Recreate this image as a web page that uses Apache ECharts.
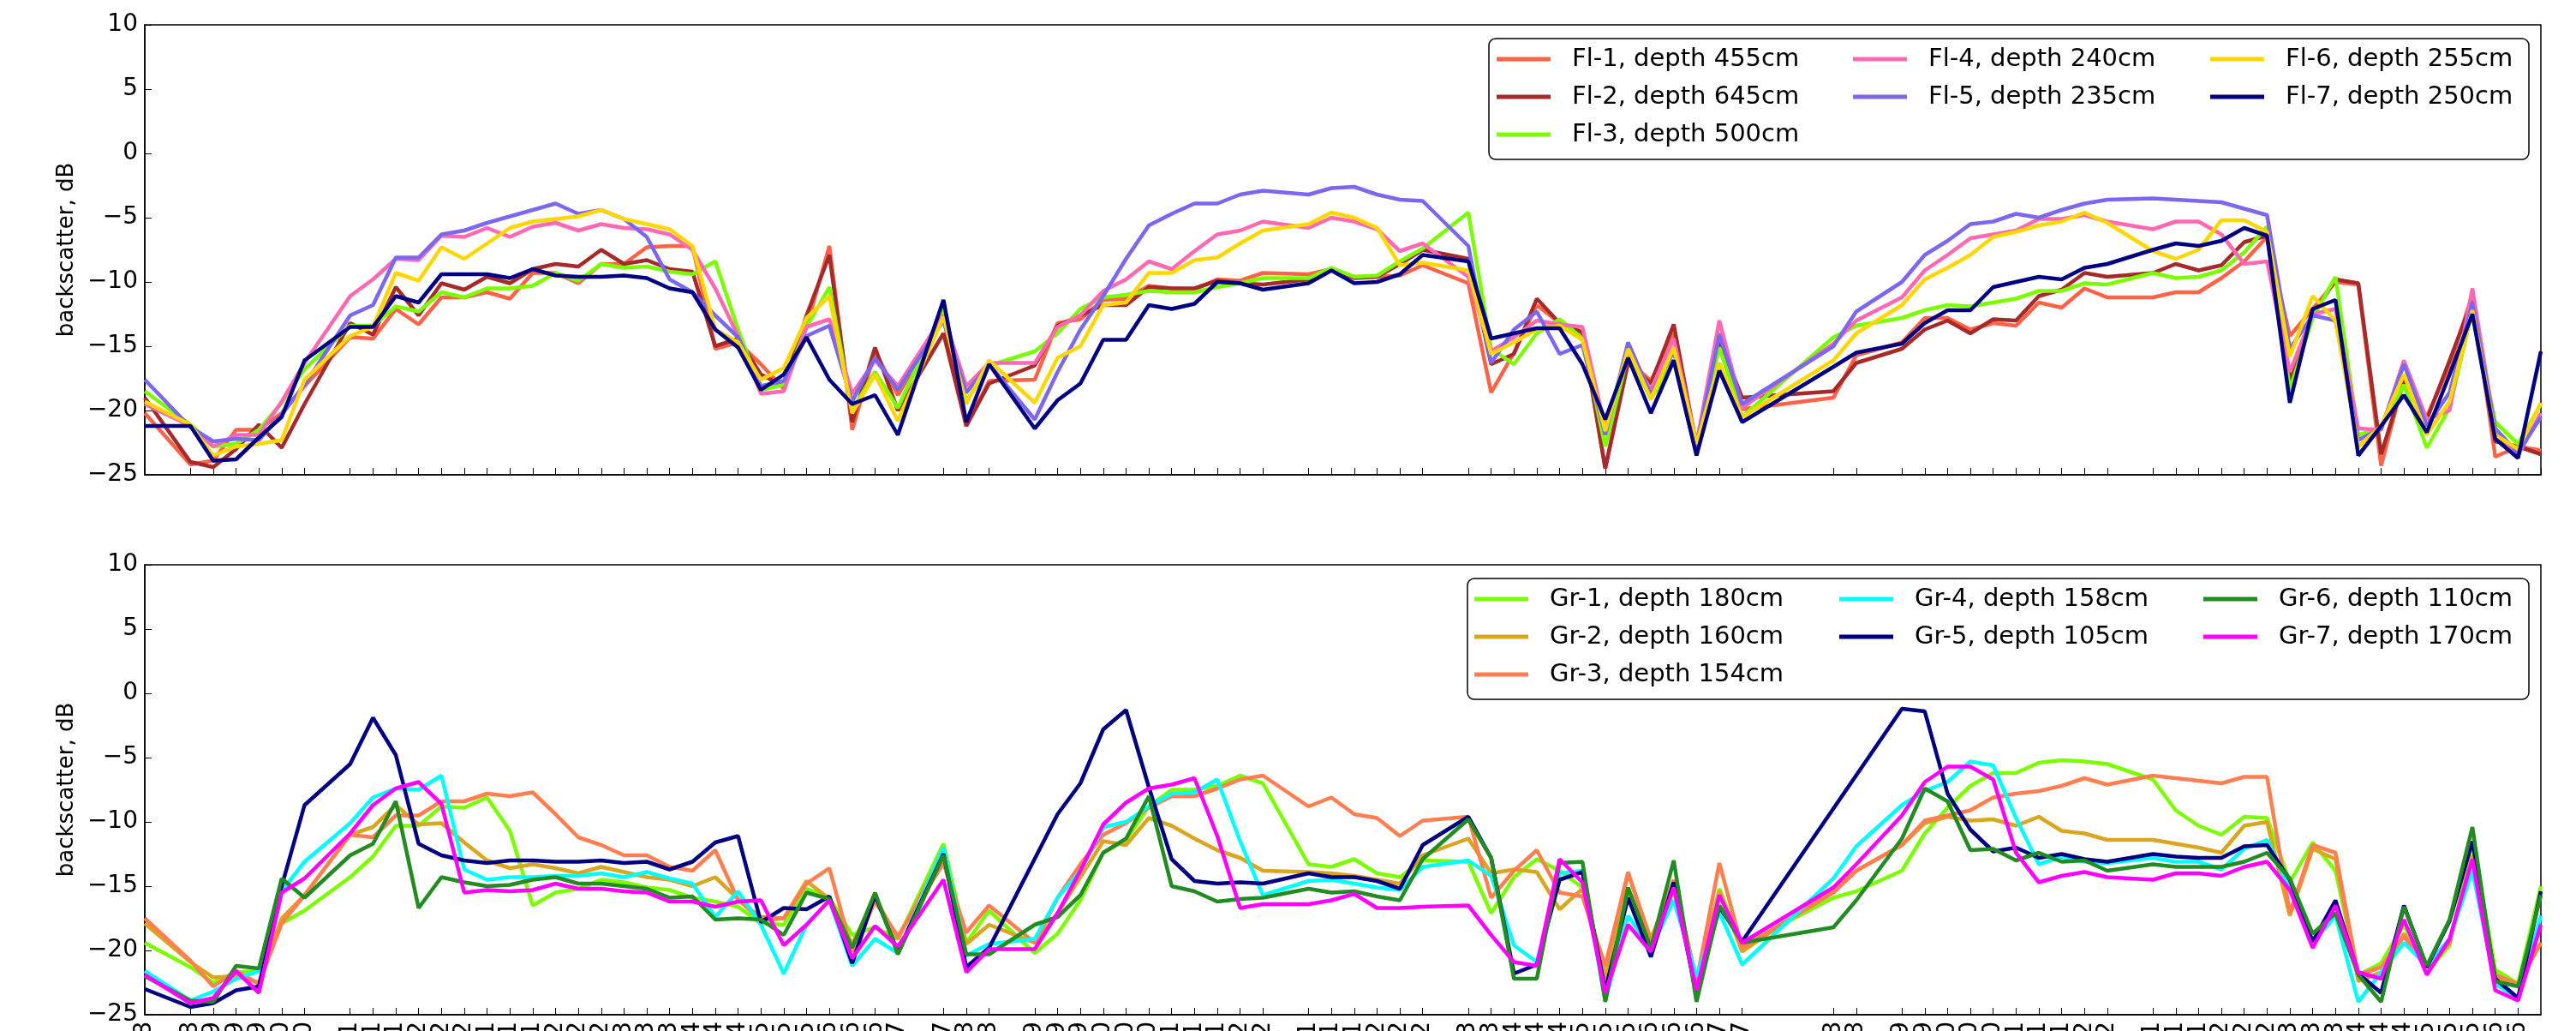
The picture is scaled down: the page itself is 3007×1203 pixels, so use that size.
<!DOCTYPE html>
<html lang="en">
<head>
<meta charset="utf-8">
<title>backscatter</title>
<style>
  * { margin: 0; padding: 0; }
  html, body { width: 100%; height: 100%; background: #fff; }
  #chart { width: 3007px; height: 1203px; }
</style>
</head>
<body>
<div id="chart"></div>
<script src="https://cdn.jsdelivr.net/npm/echarts@6/dist/echarts.min.js"></script>
<script>
// one slot per 10 days, '' = no acquisition on that slot
const dates = [
  '01.08', '', '21.08', '01.09', '11.09', '21.09', '01.10', '11.10', '', '01.11',
  '11.11', '21.11', '01.12', '11.12', '21.12', '01.01', '11.01', '21.01', '01.02', '11.02',
  '21.02', '01.03', '11.03', '21.03', '01.04', '11.04', '21.04', '01.05', '11.05', '21.05',
  '01.06', '11.06', '21.06', '01.07', '', '21.07', '01.08', '11.08', '', '01.09',
  '11.09', '21.09', '01.10', '11.10', '21.10', '01.11', '11.11', '21.11', '01.12', '11.12',
  '', '01.01', '11.01', '21.01', '01.02', '11.02', '21.02', '', '11.03', '21.03',
  '01.04', '11.04', '21.04', '01.05', '11.05', '21.05', '01.06', '11.06', '21.06', '01.07',
  '11.07', '', '', '', '11.08', '21.08', '', '11.09', '21.09', '01.10',
  '11.10', '21.10', '01.11', '11.11', '21.11', '01.12', '11.12', '', '01.01', '11.01',
  '21.01', '01.02', '11.02', '21.02', '01.03', '11.03', '21.03', '01.04', '11.04', '21.04',
  '01.05', '11.05', '21.05', '01.06', '11.06', '21.06'
];

const fl1 = [
  -20.2, null, -24.2, -23.9, -21.5, -21.5, -20.2, -18.1, null, -14.3,
  -14.4, -12.1, -13.3, -11.2, -11.2, -10.8, -11.3, -9.3, -9.3, -10.1,
  -8.6, -8.6, -7.3, -7.2, -7.2, -15.2, -14.7, -16.4, -18.3, -13.5,
  -7.2, -21.5, -15.4, -18.8, null, -12.8, -21.2, -17.7, null, -17.6,
  -13.2, -12.9, -11.4, -11.3, -10.3, -10.5, -10.6, -9.8, -9.9, -9.3,
  null, -9.4, -9.0, -9.6, -9.6, -9.5, -8.7, null, -10.1, -18.6,
  -15.5, -11.8, -13.2, -14.0, -24.5, -16.1, -17.7, -14.0, -23.3, -14.0,
  -19.9, null, null, null, -19.0, -15.7, null, -14.7, -12.8, -12.8,
  -13.7, -13.2, -13.4, -11.6, -12.0, -10.5, -11.2, null, -11.2, -10.8,
  -10.8, -9.7, -8.4, -6.5, -14.2, -12.1, -10.0, -10.2, -24.3, -17.5,
  -20.5, -16.5, -11.0, -23.6, -22.8, -23.1
];
const fl2 = [
  -19.0, null, -24.0, -24.4, -23.0, -21.1, -22.9, -19.5, null, -13.2,
  -14.1, -10.4, -12.6, -10.1, -10.6, -9.6, -10.1, -9.0, -8.6, -8.8,
  -7.5, -8.6, -8.3, -9.0, -9.2, -15.0, -14.4, -17.2, -18.1, -12.6,
  -7.9, -20.9, -15.1, -20.0, null, -14.0, -21.2, -17.9, null, -16.5,
  -13.4, -12.6, -11.8, -11.8, -10.4, -10.5, -10.5, -9.9, -10.1, -10.2,
  null, -9.8, -9.0, -9.7, -9.6, -8.6, -7.5, null, -8.2, -16.4,
  -15.6, -11.3, -13.2, -13.9, -24.5, -16.3, -17.9, -13.3, -22.8, -14.5,
  -19.0, null, null, null, -18.5, -16.3, null, -15.2, -13.7, -13.0,
  -14.0, -12.9, -13.0, -11.1, -10.6, -9.3, -9.6, null, -9.3, -8.6,
  -9.1, -8.7, -6.9, -6.4, -17.7, -12.6, -9.8, -10.1, -23.4, -17.7,
  -20.7, -16.1, -11.4, -22.4, -22.8, -23.4
];
const fl3 = [
  -18.5, null, -21.1, -22.8, -22.6, -21.5, -19.4, -16.8, null, -13.4,
  -13.4, -11.9, -12.3, -10.8, -11.2, -10.5, -10.5, -10.3, -9.3, -9.9,
  -8.6, -8.9, -8.8, -9.2, -9.4, -8.4, -13.7, -18.4, -18.0, -13.5,
  -10.4, -20.0, -17.0, -19.8, null, -12.1, -19.3, -16.5, null, -15.4,
  -14.0, -12.1, -11.2, -11.0, -10.7, -10.8, -10.8, -10.4, -10.1, -9.7,
  null, -9.7, -8.9, -9.6, -9.5, -8.4, -7.4, null, -4.6, -15.2,
  -16.4, -14.0, -12.9, -14.4, -22.8, -15.6, -19.1, -16.1, -22.5, -15.1,
  -20.5, null, null, null, -14.3, -13.4, null, -12.8, -12.2, -11.8,
  -11.9, -11.6, -11.3, -10.7, -10.7, -10.1, -10.2, null, -9.3, -9.7,
  -9.6, -9.1, -7.7, -5.7, -18.4, -12.8, -9.6, -21.9, -21.4, -18.0,
  -22.9, -19.8, -12.2, -20.9, -22.6, -19.5
];
const fl4 = [
  -19.5, null, -21.2, -22.8, -21.9, -21.9, -19.3, -16.3, null, -11.1,
  -9.8, -8.2, -8.3, -6.4, -6.5, -5.8, -6.5, -5.7, -5.4, -6.0,
  -5.5, -5.8, -5.9, -6.3, -7.5, -10.5, -14.2, -18.7, -18.5, -13.5,
  -12.9, -18.7, -16.1, -18.1, null, -12.6, -18.1, -16.3, null, -16.3,
  -13.5, -12.6, -10.7, -9.8, -8.4, -9.0, -7.6, -6.3, -6.0, -5.3,
  null, -5.8, -5.0, -5.3, -5.9, -7.6, -7.0, null, -9.6, -15.4,
  -14.3, -13.0, -13.3, -13.5, -21.4, -15.4, -18.4, -14.4, -22.6, -13.0,
  -19.8, null, null, null, -14.8, -13.0, null, -11.2, -9.1, -7.9,
  -6.6, -6.3, -6.0, -5.1, -5.1, -4.8, -5.3, null, -5.9, -5.3,
  -5.3, -6.3, -8.6, -8.4, -17.0, -12.5, -12.1, -21.4, -21.5, -16.1,
  -20.7, -20.0, -10.5, -21.6, -23.5, -20.2
];
const fl5 = [
  -17.6, null, -21.3, -22.4, -22.2, -22.3, -20.3, -18.0, null, -12.6,
  -11.8, -8.1, -8.1, -6.3, -6.0, -5.4, -4.9, -4.4, -3.9, -4.7,
  -4.4, -5.1, -6.5, -9.8, -10.8, -12.6, -14.3, -18.1, -17.7, -14.2,
  -13.4, -19.3, -15.9, -18.4, null, -13.0, -18.6, -16.4, null, -20.7,
  -17.0, -13.7, -11.1, -8.2, -5.6, -4.7, -3.9, -3.9, -3.2, -2.9,
  null, -3.2, -2.7, -2.6, -3.2, -3.6, -3.7, null, -7.2, -16.3,
  -13.7, -12.3, -15.6, -14.9, -21.9, -14.7, -18.8, -15.4, -22.8, -14.1,
  -19.5, null, null, null, -15.0, -12.3, null, -10.0, -7.9, -6.8,
  -5.5, -5.3, -4.7, -5.0, -4.4, -3.9, -3.6, null, -3.5, -3.6,
  -3.7, -3.8, -4.3, -4.8, -15.2, -12.6, -13.0, -22.3, -21.4, -16.4,
  -21.2, -18.6, -11.6, -21.4, -23.3, -20.5
];
const fl6 = [
  -19.3, null, -21.1, -23.5, -22.8, -22.6, -22.3, -17.6, null, -14.2,
  -13.5, -9.3, -9.9, -7.3, -8.2, -7.0, -5.8, -5.3, -5.1, -4.9,
  -4.4, -5.1, -5.5, -5.9, -7.2, -13.7, -14.7, -17.6, -16.7, -12.8,
  -11.1, -20.2, -17.2, -20.8, null, -12.7, -19.5, -16.1, null, -19.4,
  -15.9, -15.0, -11.8, -11.6, -9.3, -9.3, -8.3, -8.1, -7.0, -6.0,
  null, -5.5, -4.6, -5.0, -5.8, -8.7, -8.5, null, -9.1, -15.6,
  -14.7, -13.7, -13.4, -14.5, -21.6, -15.2, -19.1, -15.1, -22.6, -16.3,
  -20.5, null, null, null, -16.1, -14.0, null, -11.8, -9.8, -8.9,
  -7.9, -6.5, -6.1, -5.6, -5.3, -4.6, -5.4, null, -7.6, -8.2,
  -7.5, -5.2, -5.2, -6.1, -15.8, -11.1, -13.0, -22.8, -21.2, -17.2,
  -21.9, -19.3, -12.2, -21.9, -23.0, -19.4
];
const fl7 = [
  -21.2, null, -21.2, -23.9, -23.8, -22.1, -20.5, -16.1, null, -13.5,
  -13.5, -11.1, -11.6, -9.4, -9.4, -9.4, -9.7, -9.0, -9.5, -9.6,
  -9.6, -9.5, -9.7, -10.5, -10.8, -13.7, -15.1, -18.4, -17.2, -14.3,
  -17.6, -19.5, -18.8, -21.9, null, -11.4, -20.9, -16.4, null, -21.4,
  -19.2, -17.9, -14.5, -14.5, -11.8, -12.1, -11.7, -10.0, -10.1, -10.6,
  null, -10.1, -9.1, -10.1, -10.0, -9.4, -7.9, null, -8.4, -14.4,
  -14.0, -13.6, -13.6, -16.4, -20.7, -15.9, -20.2, -16.1, -23.5, -16.9,
  -20.9, null, null, null, -16.6, -15.5, null, -14.8, -13.2, -12.2,
  -12.2, -10.4, -10.0, -9.6, -9.8, -8.9, -8.6, null, -7.5, -7.0,
  -7.2, -6.8, -5.8, -6.4, -19.4, -12.1, -11.4, -23.5, -21.2, -18.8,
  -21.7, -17.2, -12.5, -22.2, -23.7, -15.4
];

const gr1 = [
  -19.4, null, -21.3, -22.5, -21.7, -21.6, -17.9, -16.9, null, -14.3,
  -12.7, -10.3, -10.3, -8.8, -8.9, -8.1, -10.7, -16.5, -15.5, -15.2,
  -14.5, -14.7, -15.1, -15.3, -15.9, -16.2, -16.6, -17.9, -18.0, -15.2,
  -15.9, -18.8, -18.2, -19.1, null, -11.7, -19.4, -16.9, null, -20.2,
  -18.7, -16.1, -12.4, -11.4, -8.8, -7.5, -7.5, -7.2, -6.4, -7.0,
  null, -13.3, -13.5, -12.9, -14.0, -14.3, -13.0, null, -13.1, -17.1,
  -14.3, -12.9, -13.8, -15.1, -21.7, -15.4, -19.8, -15.4, -22.6, -15.2,
  -19.6, null, null, null, -15.9, -15.4, null, -13.8, -10.9, -8.9,
  -7.2, -6.2, -6.2, -5.4, -5.2, -5.3, -5.5, null, -6.7, -9.1,
  -10.3, -11.0, -9.6, -9.7, -14.7, -11.6, -13.8, -21.9, -21.0, -18.0,
  -21.7, -19.6, -11.6, -21.5, -22.6, -15.0
];
const gr2 = [
  -17.9, null, -20.9, -22.1, -22.0, -22.5, -17.5, -15.7, null, -11.0,
  -10.4, -8.7, -10.2, -10.1, -11.6, -13.0, -13.6, -13.3, -13.6, -14.0,
  -13.5, -13.9, -14.3, -14.5, -15.0, -14.3, -16.0, -17.7, -17.5, -14.6,
  -16.0, -19.5, -15.9, -19.1, null, -12.3, -19.5, -18.0, null, -19.4,
  -17.1, -14.3, -11.5, -11.8, -9.7, -10.3, -11.3, -12.2, -12.8, -13.8,
  null, -13.9, -14.0, -14.2, -14.5, -14.8, -12.6, null, -11.3, -14.0,
  -13.7, -13.9, -16.8, -15.2, -22.2, -14.0, -19.1, -14.6, -22.3, -15.4,
  -20.1, null, null, null, -15.2, -13.8, null, -11.8, -10.1, -9.6,
  -9.9, -9.8, -10.3, -9.6, -10.7, -10.9, -11.4, null, -11.4, -11.7,
  -12.0, -12.4, -10.3, -10.0, -17.3, -12.1, -12.9, -22.4, -21.7, -18.7,
  -21.5, -19.4, -12.6, -22.0, -22.7, -19.4
];
const gr3 = [
  -17.5, null, -20.8, -22.8, -21.6, -22.6, -17.9, -15.7, null, -11.0,
  -11.2, -9.5, -9.5, -8.4, -8.4, -7.8, -8.0, -7.7, -9.4, -11.2,
  -11.8, -12.6, -12.6, -13.5, -13.8, -12.2, -16.1, -17.4, -17.5, -14.8,
  -13.6, -20.1, -16.2, -18.9, null, -13.2, -18.6, -16.5, null, -19.4,
  -15.9, -13.3, -11.0, -10.1, -8.9, -8.0, -8.0, -7.4, -6.7, -6.4,
  null, -8.8, -8.1, -9.4, -9.7, -11.1, -9.9, null, -9.6, -15.9,
  -13.8, -12.2, -15.5, -15.8, -21.2, -13.9, -19.4, -14.5, -22.4, -13.2,
  -19.8, null, null, null, -15.5, -13.8, null, -11.8, -9.9, -9.5,
  -9.1, -8.1, -7.8, -7.6, -7.2, -6.6, -7.1, null, -6.4, -6.6,
  -6.8, -7.0, -6.5, -6.5, -17.1, -11.8, -12.4, -21.9, -21.3, -18.9,
  -21.2, -19.4, -12.9, -21.9, -22.6, -19.4
];
const gr4 = [
  -21.6, null, -23.9, -23.2, -22.2, -21.6, -15.4, -13.1, null, -10.1,
  -8.1, -7.4, -7.5, -6.4, -13.7, -14.5, -14.3, -14.3, -14.2, -14.2,
  -14.0, -14.3, -13.9, -14.4, -14.8, -17.4, -15.4, -18.0, -21.8, -18.0,
  -16.1, -21.2, -19.1, -20.2, null, -12.0, -20.4, -19.5, null, -19.1,
  -15.9, -13.8, -10.4, -10.0, -8.8, -7.8, -7.7, -6.7, -11.5, -15.7,
  null, -14.6, -14.5, -14.8, -15.1, -15.3, -13.5, null, -13.0, -14.2,
  -19.6, -20.9, -14.0, -13.8, -23.9, -17.3, -19.9, -16.1, -22.0, -17.0,
  -21.1, null, null, null, -14.4, -11.9, null, -8.7, -7.6, -6.9,
  -5.3, -5.6, -9.7, -13.3, -12.7, -13.1, -13.2, null, -12.8, -13.1,
  -13.1, -13.7, -12.1, -11.4, -15.2, -19.4, -17.3, -24.0, -21.7, -19.4,
  -21.2, -19.1, -13.8, -22.6, -23.7, -17.3
];
const gr5 = [
  -23.0, null, -24.4, -24.1, -23.1, -22.8, -15.0, -8.7, null, -5.5,
  -1.9, -4.8, -11.7, -12.6, -13.0, -13.2, -13.0, -13.0, -13.1, -13.1,
  -13.0, -13.2, -13.1, -13.7, -13.1, -11.6, -11.1, -17.8, -16.7, -16.8,
  -15.8, -21.0, -15.7, -20.1, null, -12.5, -21.3, -19.8, null, null,
  -9.4, -7.0, -2.8, -1.3, -7.3, -12.9, -14.6, -14.8, -14.7, -14.8,
  null, -14.0, -14.3, -14.3, -14.6, -15.2, -11.8, null, -9.6, -12.8,
  -21.8, -21.1, -14.5, -13.9, -23.1, -15.9, -20.5, -14.7, -23.5, -16.6,
  -19.3, null, null, null, null, null, null, -1.2, -1.4, -7.8,
  -10.6, -12.3, -12.0, -12.8, -12.5, -12.9, -13.1, null, -12.5, -12.7,
  -12.8, -12.8, -11.9, -11.8, -14.5, -19.3, -16.1, -21.8, -23.3, -16.5,
  -21.3, -17.7, -11.5, -22.2, -23.7, -15.4
];
const gr6 = [
  -22.0, null, -23.9, -24.0, -21.2, -21.4, -14.4, -15.9, null, -12.6,
  -11.7, -8.4, -16.7, -14.3, -14.7, -15.0, -14.9, -14.5, -14.3, -14.8,
  -14.8, -15.0, -15.2, -15.9, -15.8, -17.6, -17.5, -17.6, -18.8, -15.5,
  -16.0, -19.8, -15.5, -20.3, null, -12.6, -20.3, -20.3, null, -18.0,
  -17.4, -15.7, -12.4, -11.3, -8.0, -15.0, -15.4, -16.2, -16.0, -15.9,
  null, -15.2, -15.5, -15.4, -15.8, -16.1, -12.9, null, -9.8, -12.8,
  -22.2, -22.2, -13.2, -13.1, -24.0, -15.1, -19.8, -13.0, -24.0, -16.5,
  -19.4, null, null, null, -18.2, -16.1, null, -11.3, -7.4, -8.4,
  -12.2, -12.1, -13.0, -12.4, -13.1, -13.0, -13.8, null, -13.3, -13.5,
  -13.5, -13.5, -13.1, -12.4, -14.4, -18.7, -17.1, -21.9, -24.0, -16.6,
  -21.2, -17.6, -10.4, -22.4, -22.8, -15.7
];
const gr7 = [
  -21.9, null, -24.1, -23.7, -21.6, -23.3, -15.5, -14.4, null, -10.9,
  -8.7, -7.4, -6.9, -8.6, -15.5, -15.3, -15.4, -15.3, -14.8, -15.2,
  -15.2, -15.4, -15.5, -16.2, -16.2, -16.6, -16.2, -16.1, -19.6, -18.0,
  -16.1, -20.6, -18.1, -19.7, null, -14.5, -21.7, -19.9, null, -19.9,
  -17.1, -13.8, -10.2, -8.5, -7.4, -7.1, -6.6, -11.1, -16.7, -16.4,
  null, -16.4, -16.1, -15.6, -16.7, -16.7, -16.6, null, -16.5, -18.8,
  -20.9, -21.2, -12.9, -14.7, -23.3, -18.0, -20.1, -15.1, -23.1, -15.7,
  -19.4, null, null, null, -15.1, -13.3, null, -9.5, -6.9, -5.7,
  -5.7, -6.7, -12.4, -14.7, -14.2, -13.9, -14.3, null, -14.5, -14.0,
  -14.0, -14.2, -13.5, -13.1, -15.3, -19.8, -16.5, -21.7, -22.2, -17.6,
  -21.9, -19.1, -12.9, -23.1, -23.9, -18.0
];

const flNames = ['Fl-1, depth 455cm', 'Fl-2, depth 645cm', 'Fl-3, depth 500cm', 'Fl-4, depth 240cm',
  'Fl-5, depth 235cm', 'Fl-6, depth 255cm', 'Fl-7, depth 250cm'];
const grNames = ['Gr-1, depth 180cm', 'Gr-2, depth 160cm', 'Gr-3, depth 154cm', 'Gr-4, depth 158cm',
  'Gr-5, depth 105cm', 'Gr-6, depth 110cm', 'Gr-7, depth 170cm'];
const flColors = ['#ff6347', '#a52a2a', '#7cfc00', '#ff69b4', '#7b68ee', '#ffd700', '#000080'];
const grColors = ['#7cfc00', '#daa520', '#ff7f50', '#00ffff', '#000080', '#228b22', '#ff00ff'];
const flData = [fl1, fl2, fl3, fl4, fl5, fl6, fl7];
const grData = [gr1, gr2, gr3, gr4, gr5, gr6, gr7];

const FONT = 'DejaVu Sans';
const minus = (v) => String(v).replace('-', '\u2212');
const hasDate = (i, v) => v !== '';

function makeXAxis(gridIndex, withLabels) {
  return {
    type: 'category',
    gridIndex: gridIndex,
    data: dates,
    boundaryGap: false,
    axisLine: { show: true, onZero: false, lineStyle: { color: '#000', width: 1.5 } },
    axisTick: { show: true, inside: true, length: 8, interval: hasDate, lineStyle: { color: '#000', width: 1 } },
    axisLabel: {
      show: withLabels, interval: hasDate, rotate: 90, margin: 8,
      fontFamily: FONT, fontSize: 28, color: '#000'
    },
    splitLine: { show: false }
  };
}

function makeYAxis(gridIndex) {
  return {
    type: 'value',
    gridIndex: gridIndex,
    min: -25, max: 10, interval: 5,
    name: 'backscatter, dB',
    nameLocation: 'middle',
    nameGap: 78,
    nameRotate: 90,
    nameTextStyle: { fontFamily: FONT, fontSize: 26, color: '#000' },
    axisLine: { show: true, onZero: false, lineStyle: { color: '#000', width: 1.5 } },
    axisTick: { show: true, inside: true, length: 8, lineStyle: { color: '#000', width: 1 } },
    axisLabel: { formatter: minus, margin: 8, fontFamily: FONT, fontSize: 28, color: '#000' },
    splitLine: { show: false }
  };
}

function makeSeries(names, colors, data, axisIndex) {
  return names.map((name, i) => ({
    name: name,
    type: 'line',
    xAxisIndex: axisIndex,
    yAxisIndex: axisIndex,
    data: data[i],
    symbol: 'none',
    connectNulls: true,
    lineStyle: { color: colors[i], width: 4.5 },
    itemStyle: { color: colors[i] },
    emphasis: { disabled: true }
  }));
}

function makeLegend(names, left, top) {
  return {
    data: names,
    left: left,
    top: top,
    orient: 'vertical',
    padding: 0,
    itemGap: 14,
    itemWidth: 63,
    itemHeight: 5,
    icon: 'rect',
    selectedMode: false,
    textStyle: { fontFamily: FONT, fontSize: 29, color: '#000', lineHeight: 30, padding: [0, 0, 0, 20] }
  };
}

const chart = echarts.init(document.getElementById('chart'), null, { renderer: 'canvas' });
chart.setOption({
  animation: false,
  backgroundColor: '#fff',
  grid: [
    { left: 169, top: 29, width: 2797, height: 525, show: true, borderColor: '#000', borderWidth: 1.5,
      containLabel: false, outerBoundsMode: 'none' },
    { left: 169, top: 659, width: 2797, height: 525, show: true, borderColor: '#000', borderWidth: 1.5,
      containLabel: false, outerBoundsMode: 'none' }
  ],
  xAxis: [makeXAxis(0, false), makeXAxis(1, true)],
  yAxis: [makeYAxis(0), makeYAxis(1)],
  graphic: [
    { type: 'rect', shape: { x: 1738, y: 45, width: 1214, height: 141, r: 8 },
      style: { fill: '#fff', stroke: '#000', lineWidth: 1.5 } },
    { type: 'rect', shape: { x: 1713, y: 675, width: 1239, height: 141, r: 8 },
      style: { fill: '#fff', stroke: '#000', lineWidth: 1.5 } }
  ],
  legend: [
    makeLegend(flNames.slice(0, 3), 1747, 54),
    makeLegend(flNames.slice(3, 5), 2163, 54),
    makeLegend(flNames.slice(5, 7), 2580, 54),
    makeLegend(grNames.slice(0, 3), 1721, 684),
    makeLegend(grNames.slice(3, 5), 2147, 684),
    makeLegend(grNames.slice(5, 7), 2572, 684)
  ],
  series: makeSeries(flNames, flColors, flData, 0).concat(makeSeries(grNames, grColors, grData, 1))
});
</script>
</body>
</html>
